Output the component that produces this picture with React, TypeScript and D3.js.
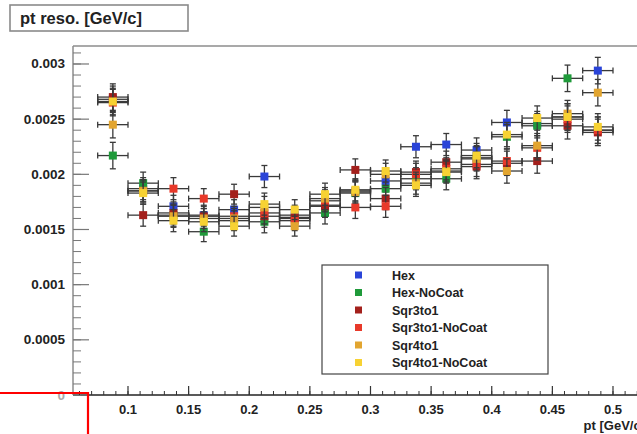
import React from "react";
import * as d3 from "d3";

const bins = [0.0875, 0.1125, 0.1375, 0.1625, 0.1875, 0.2125, 0.2375, 0.2625, 0.2875, 0.3125, 0.3375, 0.3625, 0.3875, 0.4125, 0.4375, 0.4625, 0.4875];
const binHalfWidth = 0.0125;

const hex = [0.00268, 0.00187, 0.00171, 0.00163, 0.00168, 0.00198, 0.00163, 0.00172, 0.00185, 0.00194, 0.00225, 0.00227, 0.00222, 0.00247, 0.00246, 0.00252, 0.00294];
const hexNoCoat = [0.00217, 0.00192, 0.00163, 0.00148, 0.00158, 0.00157, 0.0016, 0.00165, 0.00183, 0.00187, 0.00196, 0.00196, 0.00215, 0.00234, 0.00244, 0.00287, 0.0024];
const sqr3to1 = [0.0027, 0.00163, 0.00165, 0.00162, 0.00182, 0.00162, 0.00161, 0.00171, 0.00204, 0.00178, 0.00202, 0.00211, 0.00207, 0.0021, 0.00212, 0.00244, 0.00238];
const sqr3to1NoCoat = [0.00265, 0.00185, 0.00187, 0.00178, 0.00162, 0.00165, 0.00158, 0.00176, 0.0017, 0.00171, 0.002, 0.00205, 0.00209, 0.00212, 0.00224, 0.0025, 0.0024];
const sqr4to1 = [0.00245, 0.00185, 0.00162, 0.0016, 0.0016, 0.0017, 0.00153, 0.00178, 0.00184, 0.002, 0.00192, 0.00203, 0.00214, 0.00203, 0.00226, 0.00255, 0.00274];
const sqr4to1NoCoat = [0.00266, 0.00183, 0.00158, 0.00157, 0.00153, 0.00173, 0.00168, 0.00182, 0.00186, 0.00203, 0.0019, 0.00202, 0.00217, 0.00236, 0.00251, 0.00252, 0.00243];
const yErr = [0.00012, 0.0001, 0.0001, 0.00009, 0.00009, 0.0001, 0.00009, 0.0001, 0.0001, 0.0001, 0.0001, 0.0001, 0.00011, 0.00011, 0.00011, 0.00012, 0.00012];

const seriesNames = ["Hex", "Hex-NoCoat", "Sqr3to1", "Sqr3to1-NoCoat", "Sqr4to1", "Sqr4to1-NoCoat"];
const seriesValues = [hex, hexNoCoat, sqr3to1, sqr3to1NoCoat, sqr4to1, sqr4to1NoCoat];
const seriesColors = ["#2a44d8", "#1f9a3a", "#a3201c", "#e8392a", "#e2a530", "#f7d233"];

const yTicks = [0, 0.0005, 0.001, 0.0015, 0.002, 0.0025, 0.003];
const yTickLabels = ["0", "0.0005", "0.001", "0.0015", "0.002", "0.0025", "0.003"];
const xTicks = [0.1, 0.15, 0.2, 0.25, 0.3, 0.35, 0.4, 0.45, 0.5];
const xTickLabels = ["0.1", "0.15", "0.2", "0.25", "0.3", "0.35", "0.4", "0.45", "0.5"];

const W = 637;
const H = 434;
const left = 73;
const right = 645;
const top = 46;
const bottom = 395;

export default function App() {
  const x = d3.scaleLinear().domain([0.05464, 0.5264]).range([left, right]);
  const y = d3.scaleLinear().domain([0, 0.003163]).range([bottom, top]);
  const font = "'Liberation Sans', Arial, Helvetica, sans-serif";

  const yMinor = d3.range(0, 0.00316, 0.0001);
  const xMinor = d3.range(0.06, 0.526, 0.01);

  return (
    <svg width={W} height={H} style={{ position: "absolute", left: 0, top: 0, background: "#fff" }} fontFamily={font}>
      <rect x={0} y={0} width={W} height={H} fill="#fff" />
      {/* title box */}
      <rect x={10} y={5} width={178} height={26} fill="#fff" stroke="#8a8a8a" strokeWidth={1.6} />
      <text x={20} y={24} fontSize={16.5} fontWeight="bold" fill="#222">pt reso. [GeV/c]</text>

      {/* frame */}
      <line x1={left} y1={top} x2={W} y2={top} stroke="#8c8c8c" strokeWidth={1.5} />
      <line x1={left} y1={top} x2={left} y2={bottom} stroke="#8c8c8c" strokeWidth={1.5} />
      <line x1={left} y1={bottom} x2={W} y2={bottom} stroke="#222" strokeWidth={1.3} />

      {/* y ticks */}
      {yMinor.map((v, i) => (
        <line key={"ym" + i} x1={left} x2={left + 8} y1={y(v)} y2={y(v)} stroke="#777" strokeWidth={1} />
      ))}
      {yTicks.map((v, i) => (
        <g key={"yt" + i}>
          <line x1={left} x2={left + 16} y1={y(v)} y2={y(v)} stroke="#777" strokeWidth={1.2} />
          <text x={65} y={y(v) + 4.5} fontSize={13.5} fontWeight="bold" textAnchor="end" fill={v === 0 ? "#aaa" : "#222"}>
            {yTickLabels[i]}
          </text>
        </g>
      ))}

      {/* x ticks */}
      {xMinor.map((v, i) => (
        <line key={"xm" + i} x1={x(v)} x2={x(v)} y1={bottom} y2={bottom - 4} stroke="#333" strokeWidth={1} />
      ))}
      {xTicks.map((v, i) => (
        <g key={"xt" + i}>
          <line x1={x(v)} x2={x(v)} y1={bottom} y2={bottom - 9} stroke="#333" strokeWidth={1.2} />
          <text x={x(v)} y={414} fontSize={13} fontWeight="bold" textAnchor="middle" fill="#222">
            {xTickLabels[i]}
          </text>
        </g>
      ))}
      <text x={645} y={430} fontSize={13} fontWeight="bold" textAnchor="end" fill="#222">pt [GeV/c]</text>

      {/* data */}
      {seriesValues.map((vals, si) => (
        <g key={"s" + si}>
          {vals.map((v, i) => {
            const cx = x(bins[i]);
            const cy = y(v);
            const x0 = x(bins[i] - binHalfWidth);
            const x1 = x(bins[i] + binHalfWidth);
            const y0 = y(v - yErr[i]);
            const y1 = y(v + yErr[i]);
            return (
              <g key={i} stroke="#3a3a3a" strokeWidth={1.3}>
                <line x1={x0} x2={x1} y1={cy} y2={cy} />
                <line x1={cx} x2={cx} y1={y0} y2={y1} />
                <line x1={x0} x2={x0} y1={cy - 3} y2={cy + 3} />
                <line x1={x1} x2={x1} y1={cy - 3} y2={cy + 3} />
                <line x1={cx - 3} x2={cx + 3} y1={y0} y2={y0} />
                <line x1={cx - 3} x2={cx + 3} y1={y1} y2={y1} />
                <rect x={cx - 4} y={cy - 4} width={8} height={8} fill={seriesColors[si]} stroke="none" />
              </g>
            );
          })}
        </g>
      ))}

      {/* legend */}
      <rect x={322} y={265} width={226} height={109} fill="#fff" stroke="#444" strokeWidth={1.2} />
      {seriesNames.map((n, i) => (
        <g key={"l" + i}>
          <rect x={355} y={275 + i * 17.5 - 3.5} width={7} height={7} fill={seriesColors[i]} />
          <text x={392} y={275 + i * 17.5 + 4.5} fontSize={12.5} fontWeight="bold" fill="#222">{n}</text>
        </g>
      ))}

      {/* red annotation */}
      <polyline points="0,393 88,393 88,434" fill="none" stroke="#ff0000" strokeWidth={2.2} />
    </svg>
  );
}
